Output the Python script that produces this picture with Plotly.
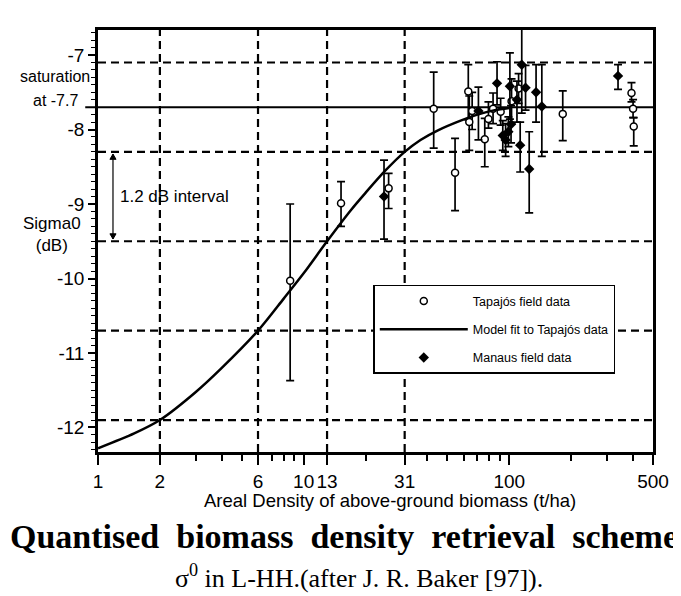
import numpy as np
import plotly.graph_objects as go

# ---------------- data ----------------
tapajos_x = [8.6, 15.2, 25.9, 42.9, 54.5, 63.2, 63.9, 66, 76, 79.2, 83.4, 90.8, 102.6, 111, 182, 393, 400, 403]
tapajos_y = [-10.03, -8.99, -8.79, -7.72, -8.58, -7.49, -7.90, -7.75, -8.13, -7.86, -7.72, -7.76, -7.62, -7.45, -7.79, -7.51, -7.72, -7.96]
tapajos_err_plus = [1.03, 0.29, 0.20, 0.49, 0.46, 0.36, 0.35, 0.25, 0.28, 0.23, 0.21, 0.18, 0.30, 0.20, 0.31, 0.14, 0.12, 0.12]
tapajos_err_minus = [1.34, 0.31, 0.27, 0.53, 0.51, 0.38, 0.38, 0.25, 0.37, 0.12, 0.20, 0.18, 0.30, 0.20, 0.36, 0.12, 0.12, 0.26]

manaus_x = [24.6, 70.8, 87.2, 93, 96, 99, 102, 100.7, 109, 115, 120, 113, 125, 135, 144, 338]
manaus_y = [-8.90, -7.75, -7.38, -8.08, -8.14, -8.03, -7.93, -7.42, -7.60, -7.13, -7.44, -8.21, -8.53, -7.50, -7.69, -7.28]
manaus_err_plus = [0.49, 0.32, 0.29, 0.20, 0.22, 0.20, 0.25, 0.45, 0.25, 0.60, 0.30, 0.31, 0.50, 0.37, 0.56, 0.15]
manaus_err_minus = [0.57, 0.39, 0.29, 0.20, 0.22, 0.20, 0.25, 0.44, 0.30, 0.65, 0.30, 0.36, 0.59, 0.40, 0.67, 0.18]

model_x = [1, 1.5, 2, 3, 4, 6, 8, 10, 13, 17, 20, 25, 31, 37, 45, 58, 70, 85, 100]
model_y = [-12.28, -12.08, -11.90, -11.52, -11.20, -10.70, -10.27, -9.93, -9.50, -9.08, -8.85, -8.55, -8.30, -8.14, -8.01, -7.88, -7.80, -7.74, -7.71]

saturation = -7.7
grid_x = [2, 6, 13, 31]
grid_y = [-7.1, -8.3, -9.5, -10.7, -11.9]

x_ticks = [1, 2, 6, 10, 13, 31, 100, 500]
x_minor = [3, 4, 5, 7, 8, 9, 20, 40, 50, 60, 70, 80, 90, 200, 300, 400]
y_ticks = [-7, -8, -9, -10, -11, -12]

bracket_top = -8.33
bracket_bottom = -9.47

# ---------------- figure ----------------
FONT = "Liberation Sans, Arial, sans-serif"
SERIF = "Liberation Serif, Times New Roman, serif"

err_style = dict(type="data", symmetric=False, color="black", thickness=1.7, width=4)

fig = go.Figure()
fig.add_trace(go.Scatter(
    x=tapajos_x, y=tapajos_y, mode="markers", name="Tapajós field data",
    legendgroup="a",
    marker=dict(symbol="circle", size=7, color="white", line=dict(color="black", width=1.5)),
    error_y=dict(array=tapajos_err_plus, arrayminus=tapajos_err_minus, **err_style),
))
fig.add_trace(go.Scatter(
    x=model_x, y=model_y, mode="lines", name="Model fit to Tapajós data",
    legendgroup="b",
    line=dict(color="black", width=2.5, shape="spline", smoothing=0.8),
))
fig.add_trace(go.Scatter(
    x=manaus_x, y=manaus_y, mode="markers", name="Manaus field data",
    legendgroup="c",
    marker=dict(symbol="diamond", size=8, color="black"),
    error_y=dict(array=manaus_err_plus, arrayminus=manaus_err_minus, **err_style),
))

dash_line = dict(color="black", width=2.2, dash="8px,5px")
shapes = []
for gx in grid_x:
    shapes.append(dict(type="line", xref="x", yref="y domain", x0=gx, x1=gx, y0=0, y1=1,
                       line=dash_line, layer="below"))
for gy in grid_y:
    shapes.append(dict(type="line", xref="x domain", yref="y", x0=0, x1=1, y0=gy, y1=gy,
                       line=dash_line, layer="below"))
shapes.append(dict(type="line", xref="x domain", yref="y", x0=-0.023, x1=1, y0=saturation, y1=saturation,
                   line=dict(color="black", width=2), layer="below"))

# 1.2 dB bracket (vertical line with small arrow heads)
bx, bw, bh = 0.027, 0.0055, 0.07
shapes.append(dict(type="line", xref="paper", yref="y", x0=bx, x1=bx, y0=bracket_top, y1=bracket_bottom,
                   line=dict(color="black", width=1.2)))
shapes.append(dict(type="path", xref="paper", yref="y", fillcolor="black", line=dict(color="black", width=1),
                   path=f"M{bx},{bracket_top} L{bx - bw},{bracket_top - bh} L{bx + bw},{bracket_top - bh} Z"))
shapes.append(dict(type="path", xref="paper", yref="y", fillcolor="black", line=dict(color="black", width=1),
                   path=f"M{bx},{bracket_bottom} L{bx - bw},{bracket_bottom + bh} L{bx + bw},{bracket_bottom + bh} Z"))

title_text = "\u00a0 ".join(["Quantised", "biomass", "density", "retrieval", "scheme"])

annotations = [
    dict(xref="paper", yref="y", x=bx + 0.009, y=(bracket_top + bracket_bottom) / 2,
         xanchor="left", yanchor="middle", showarrow=False, text="1.2 dB interval",
         font=dict(family=FONT, size=17, color="black")),
    dict(xref="paper", yref="paper", x=-0.077, y=0.889, xanchor="center", yanchor="middle",
         showarrow=False, text="saturation", font=dict(family=FONT, size=16, color="black")),
    dict(xref="paper", yref="paper", x=-0.077, y=0.834, xanchor="center", yanchor="middle",
         showarrow=False, text="at -7.7", font=dict(family=FONT, size=16, color="black")),
    dict(xref="paper", yref="paper", x=-0.083, y=0.515, xanchor="center", yanchor="middle",
         showarrow=False, text="Sigma0<br>(dB)", font=dict(family=FONT, size=17, color="black")),
    dict(xref="paper", yref="paper", x=0.527, y=-0.114, xanchor="center", yanchor="middle",
         showarrow=False, text="Areal Density of above-ground biomass (t/ha)",
         font=dict(family=FONT, size=18.5, color="black")),
    dict(xref="paper", yref="paper", x=0.443, y=-0.2, xanchor="center", yanchor="middle",
         showarrow=False, text="<b>" + title_text + "</b>",
         font=dict(family=SERIF, size=34, color="black")),
    dict(xref="paper", yref="paper", x=0.47, y=-0.296, xanchor="center", yanchor="middle",
         showarrow=False, text="σ<sup>0</sup> in L-HH.(after J. R. Baker [97]).",
         font=dict(family=SERIF, size=26, color="black")),
]

# page body has an 8px margin, so the figure is sized/offset to compensate
fig.update_layout(
    width=673, height=588,
    margin=dict(l=90, r=25, t=22, b=144),
    paper_bgcolor="white", plot_bgcolor="white",
    font=dict(family=FONT, color="black"),
    shapes=shapes, annotations=annotations,
    xaxis=dict(
        type="log", range=[0, np.log10(500)],
        tickmode="array", tickvals=x_ticks, ticktext=[str(v) for v in x_ticks],
        ticks="outside", ticklen=10, tickwidth=1.5, tickcolor="black",
        showline=True, linewidth=2.5, linecolor="black", mirror=True,
        showgrid=False, zeroline=False, tickfont=dict(family=FONT, size=19),
        minor=dict(tickmode="array", tickvals=x_minor, ticks="outside", ticklen=6,
                   tickwidth=1.5, tickcolor="black", showgrid=False),
    ),
    yaxis=dict(
        range=[-12.329, -6.664],
        tickmode="linear", tick0=-12, dtick=1,
        labelalias={f"\u2212{abs(v)}": str(v) for v in y_ticks},
        ticks="outside", ticklen=7, tickwidth=1.5, tickcolor="black",
        showline=True, linewidth=2.5, linecolor="black", mirror=True,
        showgrid=False, zeroline=False, tickfont=dict(family=FONT, size=19),
        minor=dict(tickmode="linear", tick0=-12, dtick=0.1, ticks="outside", ticklen=4,
                   tickwidth=1.2, tickcolor="black", showgrid=False),
    ),
    showlegend=True,
    legend=dict(x=0.496, y=0.396, xanchor="left", yanchor="top",
                bgcolor="white", bordercolor="black", borderwidth=1.5,
                font=dict(family=FONT, size=12.5, color="black"),
                itemwidth=88, tracegroupgap=9, traceorder="grouped"),
)

fig.write_html("out.html")
